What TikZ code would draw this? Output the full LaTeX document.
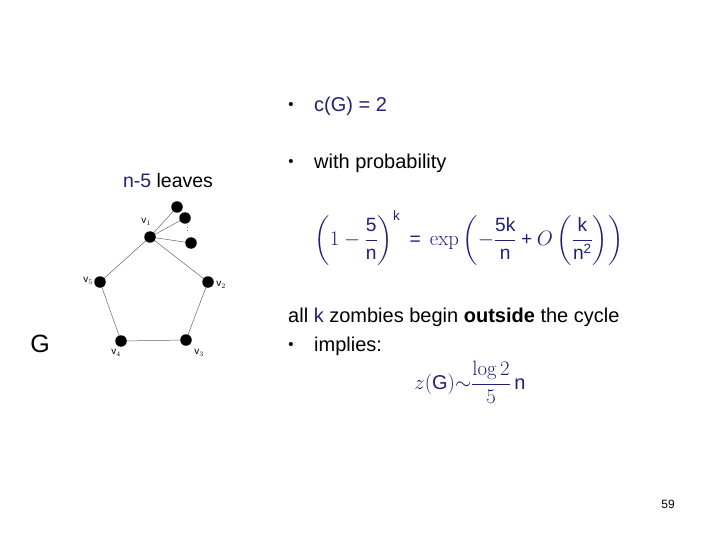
\documentclass[tikz,border=0pt]{standalone}
\usepackage{amsmath}
\usepackage[no-math]{fontspec}
\setmainfont{Liberation Sans}
\usetikzlibrary{backgrounds}
\definecolor{navy}{RGB}{32,32,120}
\newcommand{\tx}[1]{\text{#1}}
\begin{document}
\begin{tikzpicture}[x=1pt,y=-1pt,
  dot/.style={circle,fill=black,inner sep=0pt,minimum size=11.5pt},
  edge/.style={draw=black!60,line width=0.5pt},
  vlab/.style={font=\fontsize{10}{12}\selectfont,inner sep=0pt},
  txt/.style={font=\fontsize{20}{24}\selectfont,inner sep=0pt,anchor=west},
  bul/.style={font=\fontsize{15}{16}\selectfont,inner sep=0pt}]
\useasboundingbox (0,0) rectangle (720,540);
% graph
\node[dot] (v1) at (150,237) {};
\node[dot] (v2) at (208,282) {};
\node[dot] (v3) at (186,340) {};
\node[dot] (v4) at (121,341) {};
\node[dot] (v5) at (100,282) {};
\node[dot] (l1) at (177,207) {};
\node[dot] (l2) at (185,218) {};
\node[dot] (l3) at (191,243) {};
\begin{scope}[on background layer]
\draw[edge] (v1.center) -- (v2.center) -- (v3.center) -- (v4.center) -- (v5.center) -- (v1.center);
\draw[edge] (v1.center) -- (l1.center);
\draw[edge] (v1.center) -- (l2.center);
\draw[edge] (v1.center) -- (l3.center);
\end{scope}
\node[inner sep=0pt,font=\fontsize{8}{8}\selectfont] (dd) at (187.5,229) {:};
\node[vlab] (t1) at (146,222) {v$_1$};
\node[vlab] (t2) at (221,285) {v$_2$};
\node[vlab] (t3) at (199,353) {v$_3$};
\node[vlab] (t4) at (116,353) {v$_4$};
\node[vlab] (t5) at (88,281) {v$_5$};
\node[inner sep=0pt,font=\fontsize{19.5}{22}\selectfont] (nl) at (168,181) {\textcolor{navy}{n-5} leaves};
\node[inner sep=0pt,font=\fontsize{25}{30}\selectfont] (G) at (40,344) {G};
% right text
\node[bul] (b1) at (291,106) {•};
\node[txt,text=navy] (c) at (314,106) {c(G) = 2};
\node[bul] (b2) at (291,163) {•};
\node[txt] (wp) at (314,163) {with probability};
\node[inner sep=0pt,text=navy,font=\fontsize{19.2}{23}\selectfont] (f1) at (469,238)
  {$\left(1-\dfrac{\tx{5}}{\tx{n}}\right)^{\tx{k}} \;\tx{=}\; \exp\left(-\dfrac{\tx{5k}}{\tx{n}}\mathbin{\tx{+}} O\left(\dfrac{\tx{k}}{\tx{n}^{\tx{2}}}\right)\right)$};
\node[txt,anchor=west] (all) at (288,317) {all \textcolor{navy}{k} zombies begin \textbf{outside} the cycle};
\node[bul] (b3) at (291,346) {•};
\node[txt] (imp) at (314,346) {implies:};
\node[inner sep=0pt,text=navy,font=\fontsize{20}{24}\selectfont] (f2) at (470,382)
  {$z(\tx{G}){\sim}\dfrac{\log 2}{5}\,\tx{n}$};
\node[inner sep=0pt,font=\fontsize{12}{14}\selectfont] (pg) at (668,504) {59};
\end{tikzpicture}
\end{document}
